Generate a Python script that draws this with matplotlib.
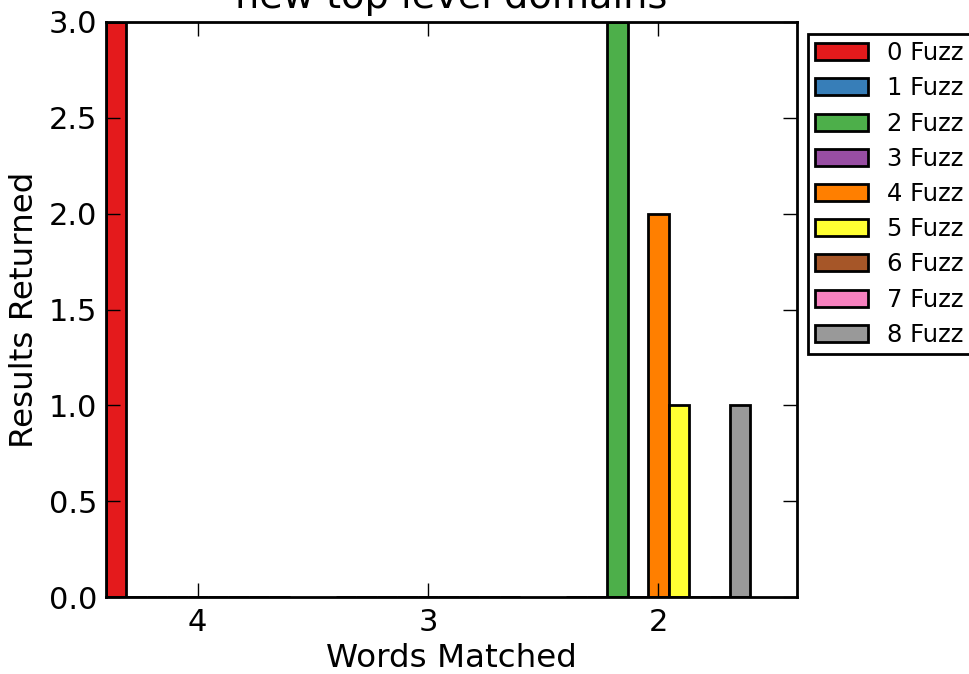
import numpy as np
import matplotlib
matplotlib.use('Agg')
import matplotlib.pyplot as plt

groups = ['4', '3', '2']
fuzz_labels = ['0 Fuzz', '1 Fuzz', '2 Fuzz', '3 Fuzz', '4 Fuzz', '5 Fuzz', '6 Fuzz', '7 Fuzz', '8 Fuzz']
colors = ['#e41a1c', '#377eb8', '#4daf4a', '#984ea3', '#ff7f00', '#ffff33', '#a65628', '#f781bf', '#999999']

# results per fuzz level, one value per group (4, 3, 2 words matched)
results = [
    [3, 0, 0],
    [0, 0, 0],
    [0, 0, 3],
    [0, 0, 0],
    [0, 0, 2],
    [0, 0, 1],
    [0, 0, 0],
    [0, 0, 0],
    [0, 0, 1],
]

figure = plt.figure(figsize=(9.69, 6.74), dpi=100)
ax = figure.add_axes([0.109, 0.1142, 0.713, 0.8532])

x = np.arange(len(groups))
width = 0.8 / len(fuzz_labels)
for k in range(len(fuzz_labels)):
    ax.bar(x - 0.4 + k * width, results[k], width, align='edge', color=colors[k],
           edgecolor='black', linewidth=2, label=fuzz_labels[k])

ax.set_xlim(-0.4, 2.6)
ax.set_ylim(0, 3)
ax.set_xticks(x)
ax.set_xticklabels(groups)
ax.set_yticks(np.arange(0, 3.01, 0.5))
ax.yaxis.set_major_formatter(matplotlib.ticker.FormatStrFormatter('%.1f'))
ax.tick_params(direction='in', length=10, width=1, top=True, right=True, labelsize=22)
ax.tick_params(axis='x', pad=8)
ax.tick_params(axis='y', pad=6)
for s in ax.spines.values():
    s.set_linewidth(2)

ax.set_xlabel('Words Matched', fontsize=23.4, labelpad=4)
ax.set_ylabel('Results Returned', fontsize=23.4, labelpad=6)
ax.set_title('new top level domains', fontsize=27.5, pad=10)

leg = ax.legend(loc='upper left', bbox_to_anchor=(808 / 969, 1 - 34 / 674), bbox_transform=figure.transFigure,
                borderaxespad=0, borderpad=0.3, fontsize=17.5, fancybox=False, framealpha=1, edgecolor='black',
                handlelength=2.15, handleheight=0.7, labelspacing=0.46)
leg.get_frame().set_linewidth(2)

plt.savefig('out.png', dpi=100)
